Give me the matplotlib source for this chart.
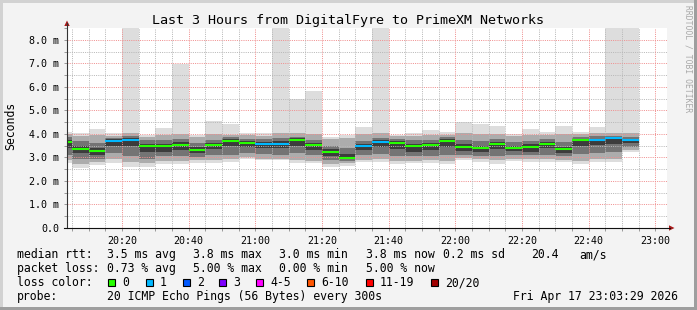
import matplotlib
matplotlib.use("Agg")
import matplotlib.pyplot as plt
from matplotlib.lines import Line2D
from matplotlib.patches import Rectangle, Polygon

W, H, DPI = 697, 310, 100
MONO = "DejaVu Sans Mono"

# ---------------- data (5-minute slots starting at 20:00 + 5*i minutes) ----------------
slot_labels = ["20:00", "20:05", "20:10", "20:15", "20:20", "20:25", "20:30", "20:35",
               "20:40", "20:45", "20:50", "20:55", "21:00", "21:05", "21:10", "21:15",
               "21:20", "21:25", "21:30", "21:35", "21:40", "21:45", "21:50", "21:55",
               "22:00", "22:05", "22:10", "22:15", "22:20", "22:25", "22:30", "22:35",
               "22:40", "22:45", "22:50"]
median = [3.66, 3.37, 3.29, 3.71, 3.75, 3.47, 3.50, 3.54, 3.33, 3.54, 3.71, 3.63,
          3.58, 3.58, 3.75, 3.54, 3.25, 2.99, 3.47, 3.65, 3.61, 3.50, 3.54, 3.71,
          3.46, 3.42, 3.58, 3.42, 3.46, 3.58, 3.37, 3.74, 3.74, 3.81, 3.74]
loss = [0, 0, 0, 1, 1, 0, 0, 0, 0, 0, 0, 0, 1, 1, 0, 0, 0, 0, 1, 1, 0, 0, 0, 0,
        0, 0, 0, 0, 0, 0, 0, 0, 1, 1, 1]
ping_min = [2.75, 2.55, 2.68, 2.78, 2.61, 2.61, 2.71, 2.71, 2.78, 2.78, 2.80, 2.92,
            2.89, 2.89, 2.78, 2.75, 2.61, 2.65, 2.81, 2.82, 2.71, 2.75, 2.75, 2.70,
            2.89, 2.81, 2.74, 2.85, 2.82, 2.81, 2.81, 2.70, 2.81, 2.81, 3.25]
ping_max = [4.09, 4.05, 4.20, 4.02, 9.00, 3.95, 4.24, 6.95, 3.95, 4.55, 4.42, 4.05,
            4.02, 9.00, 5.50, 5.82, 3.88, 3.95, 4.29, 9.00, 3.97, 4.05, 4.16, 4.10,
            4.52, 4.42, 4.35, 4.00, 4.20, 4.08, 4.35, 4.10, 4.29, 9.00, 9.00]
ping_2 = [2.88, 2.70, 2.80, 2.95, 2.80, 2.75, 2.85, 2.85, 2.88, 2.90, 2.95, 3.00,
          2.95, 2.95, 2.90, 2.85, 2.72, 2.75, 2.90, 2.95, 2.85, 2.85, 2.88, 2.85,
          2.98, 2.92, 2.88, 2.95, 2.92, 2.92, 2.90, 2.85, 2.92, 2.95, 3.30]
ping_19 = [3.98, 3.90, 3.95, 3.90, 4.05, 3.88, 3.95, 4.00, 3.85, 4.00, 3.95, 3.95,
           3.92, 4.02, 4.02, 4.00, 3.78, 3.82, 4.00, 4.02, 3.90, 3.92, 3.95, 3.95,
           4.05, 4.00, 3.98, 3.90, 3.95, 3.95, 3.98, 3.98, 4.02, 4.05, 4.02]
ping_5 = [3.10, 2.95, 2.95, 3.20, 3.05, 2.95, 3.05, 3.05, 3.02, 3.12, 3.12, 3.20,
          3.15, 3.12, 3.20, 3.10, 2.90, 2.85, 3.10, 3.15, 3.05, 3.05, 3.08, 3.10,
          3.10, 3.05, 3.08, 3.10, 3.10, 3.12, 3.05, 3.15, 3.18, 3.25, 3.45]
ping_16 = [3.85, 3.70, 3.62, 3.82, 3.90, 3.72, 3.75, 3.80, 3.60, 3.75, 3.85, 3.80,
           3.78, 3.82, 3.88, 3.75, 3.50, 3.42, 3.70, 3.82, 3.78, 3.72, 3.75, 3.85,
           3.72, 3.68, 3.78, 3.65, 3.70, 3.78, 3.65, 3.88, 3.90, 3.92, 3.88]
ping_8 = [3.40, 3.20, 3.12, 3.50, 3.50, 3.25, 3.22, 3.30, 3.18, 3.35, 3.48, 3.45,
          3.40, 3.38, 3.50, 3.30, 3.08, 2.92, 3.30, 3.45, 3.35, 3.25, 3.30, 3.45,
          3.28, 3.22, 3.35, 3.28, 3.25, 3.38, 3.20, 3.50, 3.52, 3.58, 3.60]
ping_13 = [3.74, 3.50, 3.42, 3.78, 3.82, 3.56, 3.58, 3.64, 3.45, 3.63, 3.78, 3.70,
           3.66, 3.68, 3.82, 3.62, 3.35, 3.15, 3.55, 3.72, 3.68, 3.58, 3.62, 3.78,
           3.55, 3.50, 3.65, 3.50, 3.55, 3.65, 3.45, 3.80, 3.80, 3.86, 3.80]

loss_names = ["0", "1", "2", "3", "4-5", "6-10", "11-19", "20/20"]
loss_colors = ["#26ff00", "#00b8ff", "#0059ff", "#7e00ff", "#ff00ff", "#ff5500", "#ff0000", "#a10000"]

y_ticks = [0, 1, 2, 3, 4, 5, 6, 7, 8]
y_labels = ["0.0", "1.0 m", "2.0 m", "3.0 m", "4.0 m", "5.0 m", "6.0 m", "7.0 m", "8.0 m"]
x_major_labels = ["20:20", "20:40", "21:00", "21:20", "21:40", "22:00", "22:20", "22:40", "23:00"]

title = "Last 3 Hours from DigitalFyre to PrimeXM Networks"

# ---------------- helpers ----------------
def mins(lbl):
    h, m = lbl.split(":")
    return (int(h) - 20) * 60 + int(m)

def fx(x):
    return x / W

def fy(y):
    return 1 - y / H

# ---------------- figure ----------------
fig = plt.figure(figsize=(W / DPI, H / DPI), dpi=DPI)
fig.patch.set_facecolor("#f3f3f3")

# frame shades
fig.add_artist(Rectangle((0, fy(3)), 1, 3 / H, transform=fig.transFigure, color="#d2d2d2", lw=0))
fig.add_artist(Rectangle((0, 0), 3 / W, 1, transform=fig.transFigure, color="#d2d2d2", lw=0))
fig.add_artist(Rectangle((0, 0), 1, 3 / H, transform=fig.transFigure, color="#9e9e9e", lw=0))
fig.add_artist(Rectangle((fx(694), 0), 3 / W, 1, transform=fig.transFigure, color="#9e9e9e", lw=0))

ax = fig.add_axes([fx(67), fy(228), 600 / W, 200 / H])
ax.set_facecolor("white")
for s in ax.spines.values():
    s.set_visible(False)

t0 = 3 + 29 / 60.0
ax.set_xlim(t0, t0 + 180)
ax.set_ylim(0, 8.5)

starts = [mins(l) for l in slot_labels]
widths = [5] * len(starts)

layers = [(ping_min, ping_max, "#dddddd"),
          (ping_2, ping_19, "#acacac"),
          (ping_5, ping_16, "#747474"),
          (ping_8, ping_13, "#3c3c3c")]
for lo, hi, c in layers:
    ax.bar(starts, [h - l for l, h in zip(lo, hi)], bottom=lo, width=widths, align="edge",
           color=c, linewidth=0, antialiased=False, zorder=1)

# grid (drawn over the smoke like rrdtool)
for v in [i * 0.5 for i in range(1, 17)]:
    major = abs(v - round(v)) < 1e-9
    ax.axhline(v, color="#f09090" if major else "#b8b8b8", lw=0.72,
               ls=(0, (1, 1.2)), zorder=2)
major_x = [mins(l) if l != "23:00" else 180 for l in x_major_labels]
for m in range(5, 184, 5):
    ax.axvline(m, color="#f09090" if m in major_x else "#b8b8b8", lw=0.72,
               ls=(0, (1, 1.2)), zorder=2)

# median lines coloured by loss
mcolors = [loss_colors[l] for l in loss]
ax.hlines(median, starts, [s + w for s, w in zip(starts, widths)], colors=mcolors,
          lw=1.5, zorder=4)

# ticks
ax.set_yticks(y_ticks)
ax.set_yticklabels(y_labels, family=MONO, fontsize=7.2)
ax.set_yticks([v + 0.5 for v in y_ticks], minor=True)
ax.set_xticks(major_x)
ax.set_xticklabels(x_major_labels, family=MONO, fontsize=7.2)
ax.set_xticks([m for m in range(5, 184, 5) if m not in major_x], minor=True)
ax.tick_params(which="both", length=2.2, width=0.7, color="#999999", pad=3.6)

# axes lines + arrows
fig.add_artist(Line2D([fx(67), fx(67)], [fy(228), fy(23)], transform=fig.transFigure,
                      color="#333333", lw=0.8))
fig.add_artist(Line2D([fx(64), fx(670)], [fy(228), fy(228)], transform=fig.transFigure,
                      color="#111111", lw=0.8))
fig.add_artist(Polygon([(fx(64.3), fy(26)), (fx(69.7), fy(26)), (fx(67), fy(20.5))],
                       closed=True, transform=fig.transFigure, color="#a81a1a", lw=0))
fig.add_artist(Polygon([(fx(669), fy(225.3)), (fx(669), fy(230.7)), (fx(674.5), fy(228))],
                       closed=True, transform=fig.transFigure, color="#a81a1a", lw=0))

# texts
fig.text(0.5, fy(24), title, ha="center", va="baseline", family=MONO, fontsize=9.6)
fig.text(fx(11), fy(126), "Seconds", rotation=90, ha="center", va="center",
         family=MONO, fontsize=8.3)
fig.text(fx(688), fy(59), "RRDTOOL / TOBI OETIKER", rotation=-90, ha="center",
         va="center", family=MONO, fontsize=5.8, color="#a8a8a8")

LF = 8.3
def leg(x, y, s):
    fig.text(fx(x), fy(y), s, ha="left", va="baseline", family=MONO, fontsize=LF)

leg(16.7, 258, "median rtt:")
leg(107, 258, "3.5 ms avg")
leg(193.3, 258, "3.8 ms max")
leg(279.3, 258, "3.0 ms min")
leg(365.7, 258, "3.8 ms now")
leg(443.3, 258, "0.2 ms sd")
leg(530.7, 258, "20.4")
leg(579.3, 258, "am/s")

leg(16.7, 272, "packet loss:")
leg(107, 272, "0.73 % avg")
leg(193.3, 272, "5.00 % max")
leg(279.3, 272, "0.00 % min")
leg(365.7, 272, "5.00 % now")

leg(16.7, 286, "loss color:")
box_x = [108.3, 145.7, 182.7, 219.3, 256, 307.3, 365.7, 431]
for bx, name, col in zip(box_x, loss_names, loss_colors):
    fig.add_artist(Rectangle((fx(bx), fy(285.5)), 7 / W, 7 / H, transform=fig.transFigure,
                             facecolor=col, edgecolor="black", lw=0.8))
    leg(bx + 14.3, 286, name)

leg(16.7, 300, "probe:")
leg(107, 300, "20 ICMP Echo Pings (56 Bytes) every 300s")
leg(513.3, 300, "Fri Apr 17 23:03:29 2026")

fig.savefig("out.png", dpi=DPI, facecolor=fig.get_facecolor())
